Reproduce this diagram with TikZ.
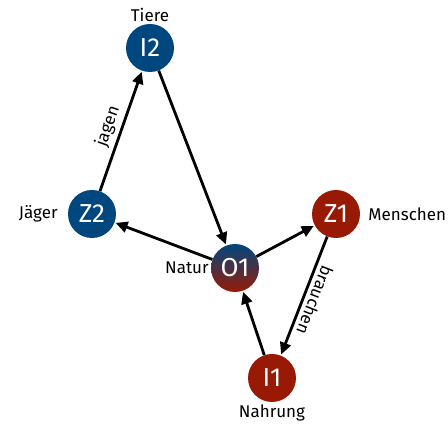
\documentclass[tikz,border=0pt]{standalone}
\usepackage{fontspec}
\setmainfont{Fira Sans}
\usepackage{tikz}
\usetikzlibrary{positioning,arrows.meta,calc}
\definecolor{goalblue}{RGB}{0,70,127}
\definecolor{goalred}{RGB}{152,26,4}
\tikzset{
  bluenode/.style={circle,fill=goalblue,text=white,minimum size=48pt,inner sep=0pt,font=\fontsize{26}{28}\selectfont},
  rednode/.style={circle,fill=goalred,text=white,minimum size=48pt,inner sep=0pt,font=\fontsize{26}{28}\selectfont},
  mixnode/.style={circle,top color=goalblue,bottom color=goalred,text=white,minimum size=48pt,inner sep=0pt,font=\fontsize{26}{28}\selectfont},
  tag/.style={font=\fontsize{17}{19}\selectfont,inner sep=2pt},
  edge/.style={-{Triangle[length=12pt,width=11pt]},line width=2.8pt,shorten >=1pt}
}
\begin{document}
\begin{tikzpicture}[x=1pt,y=-1pt]
  \useasboundingbox (0,0) rectangle (448,427);
  \node[bluenode] (i2) at (150,48) {I2};
  \node[bluenode] (z2) at (92,214) {Z2};
  \node[mixnode] (o1) at (235,268) {O1};
  \node[rednode] (z1) at (336,214) {Z1};
  \node[rednode] (i1) at (272,378) {I1};
  % labels
  \node[tag,above=0pt of i2] (tiere) {Tiere};
  \node[tag,left=8pt of z2] (jaeger) {Jäger};
  \node[tag,left=0pt of o1] (natur) {Natur};
  \node[tag,right=6pt of z1] (menschen) {Menschen};
  \node[tag,below=0pt of i1] (nahrung) {Nahrung};
  % edges
  \draw[edge] (z2) -- node[tag,sloped,above,inner sep=4pt] {jagen} (i2);
  \draw[edge] (i2) -- (o1);
  \draw[edge] (o1) -- (z2);
  \draw[edge] (o1) -- (z1);
  \draw[edge] (z1) -- node[tag,sloped,allow upside down,above,inner sep=4pt] {brauchen} (i1);
  \draw[edge] (i1) -- (o1);
\end{tikzpicture}
\end{document}
